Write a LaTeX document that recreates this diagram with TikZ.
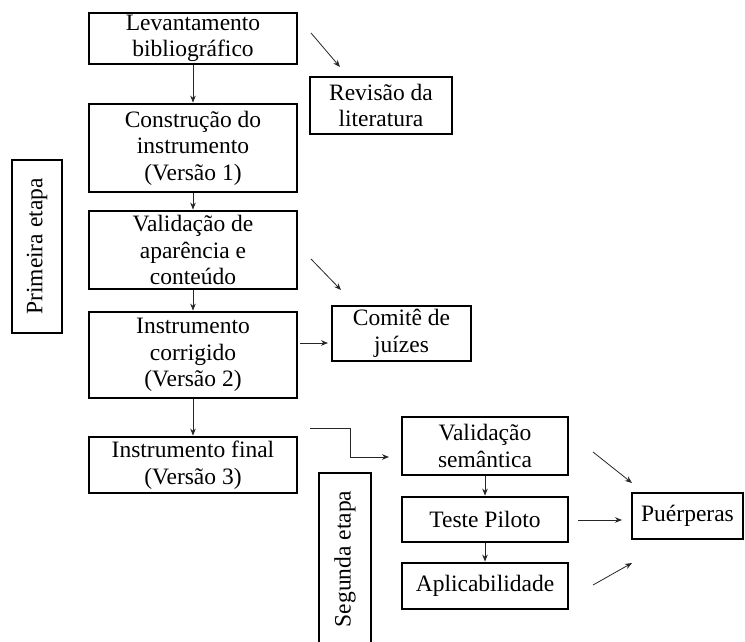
\documentclass[tikz,border=0pt]{standalone}
\usepackage{fontspec}
\setmainfont{Liberation Serif}
\usetikzlibrary{arrows.meta}
\begin{document}
\begin{tikzpicture}[x=1pt,y=-1pt,
  box/.style={draw=black, line width=2.8pt, inner sep=0pt, align=center,
    font=\fontsize{23.5}{26.5}\selectfont},
  arr/.style={draw=black!85, line width=0.8pt, -{Stealth[length=7pt,width=5.5pt]}},
  ]
\useasboundingbox (0,0) rectangle (745,642);
% left column
\node[box, minimum width=208, minimum height=51] (lev) at (193,38.5) {Levantamento\\bibliográfico};
\node[box, minimum width=142, minimum height=57] (rev) at (381,105.5) {Revisão da\\literatura};
\node[box, minimum width=208, minimum height=88] (con) at (193,148) {Construção do\\instrumento\\(Versão 1)};
\node[box, minimum width=208, minimum height=78] (val) at (193,250) {Validação de\\aparência e\\conteúdo};
\node[box, minimum width=208, minimum height=86] (ic) at (193,355) {Instrumento\\corrigido\\(Versão 2)};
\node[box, minimum width=139, minimum height=55] (com) at (401.5,333.5) {Comitê de\\juízes};
\node[box, minimum width=208, minimum height=56] (if) at (193,465) {Instrumento final\\(Versão 3)};
\node[box, rotate=90, minimum width=173, minimum height=50] (pe) at (37,246.5) {Primeira etapa};
\node[box, rotate=90, minimum width=172, minimum height=52] (se) at (345,559) {Segunda etapa};
% right column
\node[box, minimum width=166, minimum height=58] (vs) at (485,446) {Validação\\semântica};
\node[box, minimum width=166, minimum height=45] (tp) at (485,519.5) {Teste Piloto};
\node[box, minimum width=166, minimum height=46] (ap) at (485,586) {Aplicabilidade};
\node[box, minimum width=111, minimum height=46] (pu) at (687.5,516) {Puérperas};
% free arrow ends
\coordinate (a1s) at (311,33);  \coordinate (a1e) at (340,67);
\coordinate (a2s) at (311,259); \coordinate (a2e) at (341,290);
\coordinate (a3s) at (300,343); \coordinate (a3e) at (328,343);
\coordinate (b1) at (310,428);  \coordinate (b2) at (350,428);
\coordinate (b3) at (350,457);  \coordinate (b4) at (389,457);
\coordinate (c1s) at (593,452); \coordinate (c1e) at (632,483);
\coordinate (c2s) at (578,520); \coordinate (c2e) at (622,520);
\coordinate (c3s) at (593,585); \coordinate (c3e) at (632,563);
% connectors
\draw[arr] (lev) -- (con);
\draw[arr] (con) -- (val);
\draw[arr] (val) -- (ic);
\draw[arr] (ic) -- (if);
\draw[arr] (vs) -- (tp);
\draw[arr] (tp) -- (ap);
\draw[arr] (a1s) -- (a1e);
\draw[arr] (a2s) -- (a2e);
\draw[arr] (a3s) -- (a3e);
\draw[arr] (b1) -- (b2) -- (b3) -- (b4);
\draw[arr] (c1s) -- (c1e);
\draw[arr] (c2s) -- (c2e);
\draw[arr] (c3s) -- (c3e);
\end{tikzpicture}
\end{document}
